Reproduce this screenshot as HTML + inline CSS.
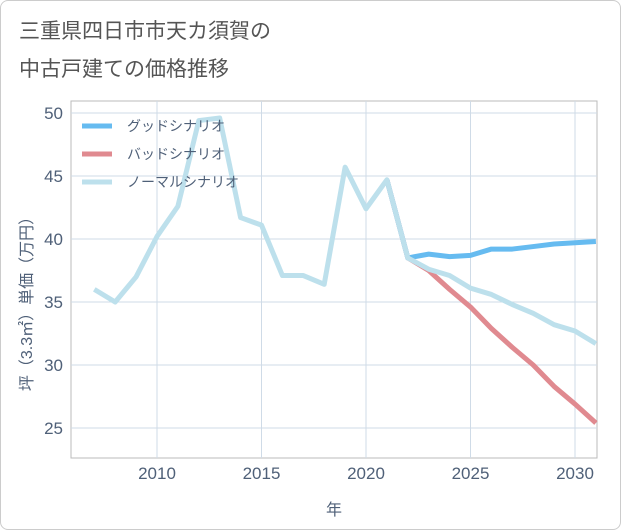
<!DOCTYPE html>
<html><head><meta charset="utf-8"><style>
body{margin:0;background:#fff;}
#wrap{position:relative;width:619px;height:528px;border:1px solid #ccc;border-radius:8px;overflow:hidden;background:#fff;font-family:"Liberation Sans","Noto Sans CJK JP",sans-serif;}
.t{position:absolute;left:18px;font-size:21px;color:#555;}
</style></head><body>
<div id="wrap">
<div class="t" style="top:14px">三重県四日市市天カ須賀の</div>
<div class="t" style="top:52px">中古戸建ての価格推移</div>
<svg id="svg" width="621" height="530" style="position:absolute;left:-1px;top:-1px"></svg>
</div>
<script>
const years=[2007,2008,2009,2010,2011,2012,2013,2014,2015,2016,2017,2018,2019,2020,2021,2022,2023,2024,2025,2026,2027,2028,2029,2030,2031];
const normal=[36.0,35.0,37.0,40.2,42.6,49.4,49.6,41.7,41.1,37.1,37.1,36.4,45.7,42.4,44.7,38.5,37.6,37.1,36.1,35.6,34.8,34.1,33.2,32.7,31.7];
const goodYears=[2021,2022,2023,2024,2025,2026,2027,2028,2029,2030,2031];
const good=[44.7,38.5,38.8,38.6,38.7,39.2,39.2,39.4,39.6,39.7,39.8];
const bad=[44.7,38.5,37.5,36.0,34.6,32.9,31.4,30.0,28.3,26.9,25.4];
const xTicks=[2010,2015,2020,2025,2030];
const yTicks=[25,30,35,40,45,50];
const X=v=>157+(v-2010)*20.9, Y=v=>113+(50-v)*12.6;
const L=71,R=597,T=101,B=458;
const svg=document.getElementById('svg');
const NS='http://www.w3.org/2000/svg';
function mk(tag,attrs,name,parent){const e=document.createElementNS(NS,tag);for(const k in attrs)e.setAttribute(k,attrs[k]);


(parent||svg).appendChild(e);return e;}
mk('rect',{x:L,y:T,width:R-L,height:B-T,fill:'none',stroke:'#bbb','stroke-width':1},'plot-border');
xTicks.forEach(v=>{mk('line',{x1:X(v),x2:X(v),y1:T,y2:B,stroke:'#cfdbe7'},'x-gridline');
const t=mk('text',{x:X(v),y:479,'text-anchor':'middle','font-size':17,fill:'#4f6078'},'x-tick-label');t.textContent=v;});
yTicks.forEach(v=>{mk('line',{x1:L,x2:R,y1:Y(v),y2:Y(v),stroke:'#cfdbe7'},'y-gridline');
const t=mk('text',{x:63,y:Y(v)+6,'text-anchor':'end','font-size':17,fill:'#4f6078'},'y-tick-label');t.textContent=v;});
const xt=mk('text',{x:334,y:515,'text-anchor':'middle','font-size':16,fill:'#4f6078'},'x-axis-title');xt.textContent='年';
const yt=mk('text',{x:0,y:0,'text-anchor':'middle','font-size':16,fill:'#4f6078',transform:'translate(32,300) rotate(-90)'},'y-axis-title');yt.textContent='坪（3.3㎡）単価（万円）';
function line(xs,ys,color,name){mk('polyline',{points:xs.map((x,i)=>X(x)+','+Y(ys[i])).join(' '),fill:'none',stroke:color,'stroke-width':5,'stroke-linejoin':'round'},name);}
line(goodYears,bad,'#e08a90','bad-scenario-line');
line(goodYears,good,'#66bbf0','good-scenario-line');
line(years,normal,'#bde0ec','normal-scenario-line');
[['グッドシナリオ','#66bbf0'],['バッドシナリオ','#e08a90'],['ノーマルシナリオ','#bde0ec']].forEach((d,i)=>{
const y=126+i*28;
mk('line',{x1:82,x2:112,y1:y,y2:y,stroke:d[1],'stroke-width':5},'legend-swatch');
const t=mk('text',{x:127,y:y+5,'font-size':14,fill:'#4f6078'},'legend-entry');t.textContent=d[0];});
</script>
</body></html>
